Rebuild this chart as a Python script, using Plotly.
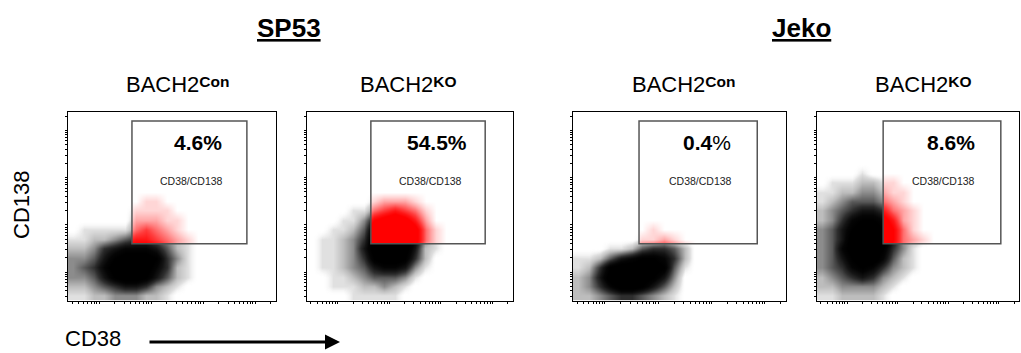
import math
import plotly.graph_objects as go

W, H = 1021, 353

# ---- data -------------------------------------------------------------
cell_lines = ["SP53", "Jeko"]
SUP = '<span style="font-size:15.5px;font-weight:bold;baseline-shift:5px">{}</span>'
conditions = ["BACH2" + SUP.format("Con"), "BACH2" + SUP.format("KO"),
              "BACH2" + SUP.format("Con"), "BACH2" + SUP.format("KO")]
pct_labels = ["<b>4.6%</b>", "<b>54.5%</b>", "<b>0.4</b>%", "<b>8.6%</b>"]
gate_name = "CD38/CD138"

# log10 fluorescence bin centres (same for CD38 and CD138)
bin_centres = [-0.5, -0.3, -0.1, 0.1, 0.3, 0.5, 0.7, 0.9,
               1.1, 1.3, 1.5, 1.7, 1.9, 2.1, 2.3, 2.5]

# event density per bin (0-9); rows run from high CD138 down to low,
# columns from low CD38 to high
sp53_con = [
    "0000000000000000", "0000000000000000", "0000000000000000",
    "0000000000000000", "0000000000000000", "0000000110000000",
    "0000001111000000", "0000002221100000", "0111113432100000",
    "1122345543210000", "2235677764210000", "3346899985310000",
    "3457999975210000", "3346899864210000", "2234566532100000",
    "1122333221000000",
]
sp53_ko = [
    "0000000000000000", "0000000000000000", "0000000000000000",
    "0000000000000000", "0000000000000000", "0000001222100000",
    "0000113454310000", "0001136787520000", "0011248999731000",
    "0112359999731000", "0112369999621000", "0112358998520000",
    "0112346776310000", "0011234443100000", "0011122321000000",
    "0000111110000000",
]
jeko_con = [
    "0000000000000000", "0000000000000000", "0000000000000000",
    "0000000000000000", "0000000000000000", "0000000000000000",
    "0000000000000000", "0000000000000000", "0000000100000000",
    "0000001121000000", "0001124554200000", "1124678875200000",
    "1258999984100000", "2369999863000000", "2357998642000000",
    "2234554321000000",
]
jeko_ko = [
    "0000000000000000", "0000000000000000", "0000100000000000",
    "0111221100000000", "1122332110000000", "1234443210000000",
    "2345665321000000", "2357887521000000", "3468998631000000",
    "3469999632100000", "3479998531000000", "3468997421000000",
    "3457875321000000", "2345653210000000", "2233332100000000",
    "1122221000000000",
]
densities = [sp53_con, sp53_ko, jeko_con, jeko_ko]

# CD38+ CD138+ gate limits (log10 units)
gate_x0 = [0.63, 0.64, 0.64, 0.71]
gate_x1 = [2.84, 2.86, 2.86, 3.04]
gate_y0 = [0.60, 0.60, 0.60, 0.60]
gate_y1 = [3.20, 3.20, 3.20, 3.20]

# ---- layout helpers ----------------------------------------------------
AX_RANGE = [-0.6, 3.4]
panel_px = [(68, 276), (307, 513), (573, 786), (817, 1019)]
top_px, bot_px = 111.5, 300.5
FONT = "Liberation Sans, Arial, sans-serif"

# log-decade tick marks (1..9 x 10^d) in log10 units
log_ticks = []
for d in range(-1, 4):
    for m in range(1, 10):
        v = d + math.log10(m)
        if AX_RANGE[0] <= v <= AX_RANGE[1]:
            log_ticks.append(v)

black_scale = [
    [0.0, "rgba(255,255,255,0)"], [0.111, "#e0e0e0"], [0.222, "#bdbdbd"],
    [0.333, "#8c8c8c"], [0.444, "#5a5a5a"], [0.556, "#2e2e2e"],
    [0.667, "#141414"], [0.778, "#050505"], [0.889, "#000000"],
    [1.0, "#000000"],
]
red_scale = [
    [0.0, "#ffffff"], [0.111, "#ffd6d6"], [0.222, "#ffa6a6"],
    [0.333, "#ff7070"], [0.444, "#ff3c3c"], [0.556, "#ff1616"],
    [0.667, "#ff0000"], [1.0, "#ff0000"],
]


def px_to_paper_x(px):
    return px / W


def px_to_paper_y(py):
    return 1 - py / H


fig = go.Figure()
layout = dict(
    width=W, height=H, margin=dict(l=0, r=0, t=0, b=0),
    paper_bgcolor="white", plot_bgcolor="rgba(0,0,0,0)",
    showlegend=False, font=dict(family=FONT, color="black"),
)
annotations = []
shapes = []

y_dom = [px_to_paper_y(bot_px), px_to_paper_y(top_px)]


def label(x, y, text, size, **kw):
    d = dict(x=x, y=y, xref="paper", yref="paper", text=text,
             showarrow=False, xanchor="center", yanchor="middle",
             font=dict(size=size, family=FONT, color="black"))
    d.update(kw)
    return d


for k in range(4):
    i = k + 1
    g = k + 5
    left, right = panel_px[k]
    z = [[int(c) for c in row] for row in reversed(densities[k])]

    # full population in black
    fig.add_trace(go.Heatmap(
        x=bin_centres, y=bin_centres, z=z, zmin=0, zmax=9,
        colorscale=black_scale, zsmooth="best", showscale=False,
        hoverinfo="skip", xaxis=f"x{i}", yaxis=f"y{i}",
    ))
    # gated events in red: same grid, clipped to the gate by a sub-axis
    fig.add_trace(go.Heatmap(
        x=bin_centres, y=bin_centres, z=z, zmin=0, zmax=9,
        colorscale=red_scale, zsmooth="best", showscale=False,
        hoverinfo="skip", xaxis=f"x{g}", yaxis=f"y{g}",
    ))

    ax = dict(
        domain=[px_to_paper_x(left), px_to_paper_x(right)], range=AX_RANGE,
        showgrid=False, zeroline=False, showline=True, linecolor="black",
        linewidth=1, mirror=True, ticks="outside", ticklen=2, tickwidth=1,
        tickcolor="black", tickvals=log_ticks, showticklabels=False,
        fixedrange=True,
    )
    ay = dict(ax)
    ay["domain"] = y_dom
    layout[f"xaxis{i}"] = dict(ax, anchor=f"y{i}")
    layout[f"yaxis{i}"] = dict(ay, anchor=f"x{i}")

    # sub-axis covering exactly the gate rectangle
    span = AX_RANGE[1] - AX_RANGE[0]
    wpx = right - left
    hpx = bot_px - top_px
    gx0 = left + (gate_x0[k] - AX_RANGE[0]) / span * wpx
    gx1 = left + (gate_x1[k] - AX_RANGE[0]) / span * wpx
    gy0 = bot_px - (gate_y0[k] - AX_RANGE[0]) / span * hpx
    gy1 = bot_px - (gate_y1[k] - AX_RANGE[0]) / span * hpx
    layout[f"xaxis{g}"] = dict(
        domain=[px_to_paper_x(gx0), px_to_paper_x(gx1)],
        range=[gate_x0[k], gate_x1[k]], visible=False, anchor=f"y{g}",
        fixedrange=True,
    )
    layout[f"yaxis{g}"] = dict(
        domain=[px_to_paper_y(gy0), px_to_paper_y(gy1)],
        range=[gate_y0[k], gate_y1[k]], visible=False, anchor=f"x{g}",
        fixedrange=True,
    )

    # gate outline
    shapes.append(dict(
        type="rect", xref=f"x{i}", yref=f"y{i}",
        x0=gate_x0[k], x1=gate_x1[k], y0=gate_y0[k], y1=gate_y1[k],
        line=dict(color="#555555", width=1.5), layer="above",
    ))
    xc = (gate_x0[k] + gate_x1[k]) / 2
    annotations.append(dict(
        x=xc, y=2.75, xref=f"x{i}", yref=f"y{i}", xshift=9,
        xanchor="center", yanchor="middle",
        text=pct_labels[k], showarrow=False,
        font=dict(size=21, family=FONT, color="black"),
    ))
    annotations.append(dict(
        x=xc, y=1.92, xref=f"x{i}", yref=f"y{i}", xshift=2,
        xanchor="center", yanchor="middle",
        text=gate_name, showarrow=False,
        font=dict(size=10.5, family=FONT, color="#222222"),
    ))

# condition headers
cond_px = [177.5, 408, 684, 923]
for k in range(4):
    annotations.append(label(px_to_paper_x(cond_px[k]), px_to_paper_y(84),
                             conditions[k], 22))

# cell-line titles
title_px = [288.5, 801.5]
for k in range(2):
    annotations.append(label(px_to_paper_x(title_px[k]), px_to_paper_y(28),
                             f"<b><u>{cell_lines[k]}</u></b>", 26))

# axis titles
annotations.append(label(px_to_paper_x(21), px_to_paper_y(205), "CD138", 22,
                         textangle=-90))
annotations.append(label(px_to_paper_x(93), 0, "CD38", 22, yanchor="bottom"))
annotations.append(dict(
    x=px_to_paper_x(340), y=px_to_paper_y(342), xref="paper", yref="paper",
    text="", showarrow=True, ax=-192, ay=0, arrowhead=2, arrowsize=1,
    arrowwidth=3, arrowcolor="black",
))

layout["annotations"] = annotations
layout["shapes"] = shapes
fig.update_layout(**layout)
fig.write_html("out.html")
